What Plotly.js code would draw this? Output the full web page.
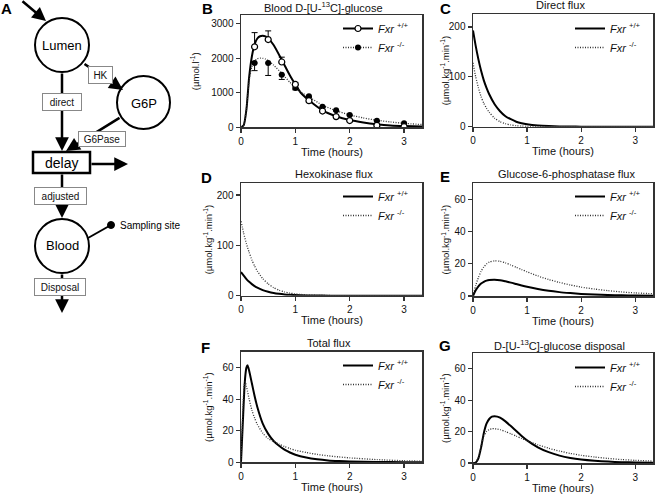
<!DOCTYPE html>
<html>
<head>
<meta charset="utf-8">
<script src="https://cdn.plot.ly/plotly-3.0.1.min.js"></script>
<style>html,body{margin:0;padding:0;background:#fff;}#chart{width:655px;height:494px;}</style>
</head>
<body>
<div id="chart"></div>
<script>
// ---------- DATA ----------
// Panel B: blood D-[U-13C]-glucose (µmol/l)
const tPointsB = [0.25, 0.5, 0.75, 1, 1.25, 1.5, 1.75, 2, 2.5, 3];
const wtPointsB = [2330, 2540, 1890, 1240, 770, 470, 310, 195, 55, 20];
const wtErrB = [410, 250, 140, 60, 40, 30, 20, 15, 10, 5];
const koPointsB = [1860, 1860, 1520, 1135, 900, 595, 490, 356, 190, 115];
const koErrB = [220, 360, 135, 50, 40, 30, 25, 20, 15, 10];
const tCurveB = [0, 0.05, 0.1, 0.15, 0.2, 0.25, 0.3, 0.35, 0.4, 0.45, 0.5, 0.6, 0.75, 0.9, 1, 1.1, 1.25, 1.5, 1.75, 2, 2.25, 2.5, 2.75, 3, 3.33];
const wtCurveB = [0, 60, 520, 1450, 2050, 2400, 2570, 2635, 2650, 2630, 2580, 2380, 1950, 1500, 1240, 1000, 780, 490, 320, 210, 140, 90, 55, 35, 20];
const koCurveB = [0, 70, 560, 1350, 1750, 1920, 1985, 2000, 1995, 1975, 1930, 1800, 1560, 1300, 1160, 1020, 880, 640, 480, 360, 270, 205, 155, 115, 80];

// Shared time grid for model fluxes (hours)
const tFlux = [0, 0.05, 0.1, 0.15, 0.2, 0.25, 0.3, 0.4, 0.5, 0.6, 0.7, 0.8, 0.9, 1, 1.2, 1.4, 1.6, 1.8, 2, 2.25, 2.5, 2.75, 3, 3.33];
// Panel C: direct flux
const wtDirect = [193, 162, 135, 112, 93, 78, 65, 45, 31, 21, 15, 10, 7, 5, 2.5, 1.2, 0.6, 0.3, 0.1, 0, 0, 0, 0, 0];
const koDirect = [128, 100, 78, 60, 47, 37, 29, 17, 10, 6, 3.5, 2, 1.2, 0.7, 0.3, 0.1, 0, 0, 0, 0, 0, 0, 0, 0];
// Panel D: hexokinase flux
const wtHK = [47, 40, 33, 27.5, 23, 19, 16, 11, 7.7, 5.3, 3.7, 2.5, 1.7, 1.2, 0.6, 0.3, 0.1, 0, 0, 0, 0, 0, 0, 0];
const koHK = [148, 124, 103, 86, 71, 59, 49, 34, 23.5, 16, 11, 7.5, 5.2, 3.5, 1.6, 0.8, 0.4, 0.2, 0.1, 0, 0, 0, 0, 0];
// Panel E: glucose-6-phosphatase flux
const wtG6Pase = [0, 3.5, 6, 7.7, 8.8, 9.5, 9.9, 10.1, 9.8, 9.1, 8.3, 7.4, 6.5, 5.7, 4.3, 3.2, 2.4, 1.8, 1.3, 0.9, 0.6, 0.45, 0.3, 0.2];
const koG6Pase = [0, 6.5, 11.5, 15.3, 18, 19.8, 21, 21.8, 21.5, 20.5, 19.2, 17.8, 16.4, 15, 12.4, 10.2, 8.4, 6.8, 5.5, 4.3, 3.3, 2.5, 1.9, 1.4];
// Panel F: total flux
const tTotal = [0, 0.02, 0.04, 0.06, 0.08, 0.1, 0.12, 0.15, 0.2, 0.25, 0.3, 0.4, 0.5, 0.6, 0.7, 0.8, 0.9, 1, 1.2, 1.4, 1.6, 1.8, 2, 2.5, 3, 3.33];
const wtTotal = [0, 15, 30, 45, 55, 60, 61.5, 58, 50, 42, 35, 24.5, 18, 13.5, 10.5, 8, 6.2, 4.8, 3, 1.9, 1.2, 0.8, 0.5, 0.2, 0.1, 0.05];
const koTotal = [0, 20, 38, 49, 51, 48, 45, 40, 33, 28, 24, 18.5, 15, 13.2, 11.5, 10, 8.7, 7.6, 6.2, 5, 4.1, 3.4, 2.8, 1.7, 1.0, 0.7];
// Panel G: D-[U-13C]-glucose disposal
const tDisp = [0, 0.05, 0.1, 0.15, 0.2, 0.25, 0.3, 0.35, 0.4, 0.45, 0.5, 0.6, 0.7, 0.8, 0.9, 1, 1.2, 1.4, 1.6, 1.8, 2, 2.25, 2.5, 2.75, 3, 3.33];
const wtDisp = [0, 0.3, 3, 10, 19, 25, 28, 29.5, 29.8, 29.5, 28.8, 26.5, 23.5, 20.3, 17.2, 14.4, 10, 6.9, 4.7, 3.2, 2.2, 1.4, 0.9, 0.55, 0.35, 0.2];
const koDisp = [0, 0.5, 4, 11, 17, 20, 21.3, 21.8, 21.8, 21.6, 21.2, 20, 18.6, 17.1, 15.6, 14.2, 11.6, 9.4, 7.6, 6.1, 4.9, 3.8, 2.9, 2.2, 1.7, 1.2];

const timeTicks = [0, 1, 2, 3];
const nameWT = '<i>Fxr</i> <sup>+/+</sup>';
const nameKO = '<i>Fxr</i> <sup>-/-</sup>';

// ---------- LAYOUT HELPERS ----------
const W = 655, H = 494;
const px = x => x / W;
const py = y => 1 - y / H;
const FONT = 'Liberation Sans, Arial, Helvetica, sans-serif';

const solid = {color: '#000', width: 2, shape: 'spline', smoothing: 0.6};
const dotted = {color: '#333', width: 1.3, dash: '1px,1.5px', shape: 'spline', smoothing: 0.6};

const traces = [];
// Panel B
traces.push({x: tCurveB, y: wtCurveB, xaxis: 'x', yaxis: 'y', mode: 'lines', line: solid, showlegend: false, hoverinfo: 'skip'});
traces.push({x: tCurveB, y: koCurveB, xaxis: 'x', yaxis: 'y', mode: 'lines', line: dotted, showlegend: false, hoverinfo: 'skip'});
traces.push({x: tPointsB, y: koPointsB, xaxis: 'x', yaxis: 'y', mode: 'markers',
  marker: {symbol: 'circle', size: 6, color: '#000'},
  error_y: {type: 'data', symmetric: false, array: koPointsB.map(() => 0), arrayminus: koErrB, color: '#000', thickness: 1, width: 3},
  showlegend: false});
traces.push({x: tPointsB, y: wtPointsB, xaxis: 'x', yaxis: 'y', mode: 'markers',
  marker: {symbol: 'circle', size: 6, color: '#fff', line: {color: '#000', width: 1.2}},
  error_y: {type: 'data', symmetric: false, array: wtErrB, arrayminus: wtPointsB.map(() => 0), color: '#000', thickness: 1, width: 3},
  showlegend: false});
traces.push({x: [null], y: [null], xaxis: 'x', yaxis: 'y', mode: 'lines+markers', name: nameWT, legend: 'legend',
  line: {color: '#000', width: 2}, marker: {symbol: 'circle', size: 6, color: '#fff', line: {color: '#000', width: 1.2}}});
traces.push({x: [null], y: [null], xaxis: 'x', yaxis: 'y', mode: 'lines+markers', name: nameKO, legend: 'legend',
  line: {color: '#333', width: 1.3, dash: '1px,1.5px'}, marker: {symbol: 'circle', size: 6, color: '#000'}});

function fluxPair(t, wt, ko, ax, lg) {
  traces.push({x: t, y: wt, xaxis: 'x' + ax, yaxis: 'y' + ax, mode: 'lines', line: solid, name: nameWT, legend: lg});
  traces.push({x: t, y: ko, xaxis: 'x' + ax, yaxis: 'y' + ax, mode: 'lines', line: dotted, name: nameKO, legend: lg});
}
fluxPair(tFlux, wtDirect, koDirect, '2', 'legend2');
fluxPair(tFlux, wtHK, koHK, '3', 'legend3');
fluxPair(tFlux, wtG6Pase, koG6Pase, '4', 'legend4');
fluxPair(tTotal, wtTotal, koTotal, '5', 'legend5');
fluxPair(tDisp, wtDisp, koDisp, '6', 'legend6');

// ---------- AXES ----------
const axBase = {showline: true, linecolor: '#333', linewidth: 1.5, mirror: true, ticks: 'outside', ticklen: 4,
  tickwidth: 1.2, tickcolor: '#333', showgrid: false, zeroline: false, fixedrange: true,
  tickfont: {size: 10, color: '#111', family: FONT}};
function xAx(dom, anchor) {
  return Object.assign({}, axBase, {domain: dom, anchor: anchor, range: [0, 3.33], tickvals: timeTicks});
}
function yAx(dom, anchor, range, dtick) {
  return Object.assign({}, axBase, {domain: dom, anchor: anchor, range: range, dtick: dtick});
}
const fluxUnit = '(µmol.kg<sup>-1</sup>.min<sup>-1</sup>)';
const colL = [px(241), px(422)], colR = [px(473), px(653)];

function legendAt(rightPx, topPx) {
  return {x: px(rightPx), xanchor: 'right', y: py(topPx), yanchor: 'top', xref: 'paper', yref: 'paper',
    bgcolor: 'rgba(0,0,0,0)', borderwidth: 0, itemwidth: 30, tracegroupgap: 0,
    font: {size: 11, color: '#111', family: FONT}};
}

// ---------- DIAGRAM (panel A) ----------
const shapes = [
  {type: 'circle', xref: 'paper', yref: 'paper', x0: px(35), x1: px(89), y0: py(72), y1: py(18), line: {color: '#000', width: 2}},
  {type: 'circle', xref: 'paper', yref: 'paper', x0: px(117), x1: px(170), y0: py(129), y1: py(76), line: {color: '#000', width: 2}},
  {type: 'circle', xref: 'paper', yref: 'paper', x0: px(35), x1: px(89), y0: py(273), y1: py(219), line: {color: '#000', width: 2}},
  {type: 'rect', xref: 'paper', yref: 'paper', x0: px(33), x1: px(90), y0: py(173), y1: py(152), line: {color: '#000', width: 2.5}, fillcolor: '#fff'},
  {type: 'line', xref: 'paper', yref: 'paper', x0: px(88), y0: py(238), x1: px(111), y1: py(225), line: {color: '#000', width: 2}},
  {type: 'circle', xref: 'paper', yref: 'paper', x0: px(107.5), x1: px(114.5), y0: py(228.5), y1: py(221.5), line: {color: '#000', width: 1}, fillcolor: '#000'}
];

function arrow(hx, hy, tx, ty) {
  return {xref: 'paper', yref: 'paper', x: px(hx), y: py(hy), ax: tx - hx, ay: ty - hy, axref: 'pixel', ayref: 'pixel',
    text: '', showarrow: true, arrowhead: 2, arrowsize: 1.1, arrowwidth: 2.5, arrowcolor: '#000', standoff: 0, startstandoff: 0};
}
function box(cx, cy, w, h, text) {
  return {xref: 'paper', yref: 'paper', x: px(cx), y: py(cy), xanchor: 'center', yanchor: 'middle', text: text, showarrow: false, width: w, height: h,
    bgcolor: '#fff', bordercolor: '#888', borderwidth: 1, borderpad: 1, font: {size: 10, color: '#111', family: FONT}};
}
function label(cx, cy, text, size, extra) {
  return Object.assign({xref: 'paper', yref: 'paper', x: px(cx), y: py(cy), xanchor: 'center', yanchor: 'middle', text: text, showarrow: false,
    font: {size: size, color: '#000', family: FONT}}, extra || {});
}

const annotations = [
  arrow(46, 21, 21, 0),
  arrow(62, 151, 62, 72),
  arrow(123, 90, 83, 63),
  arrow(66, 151, 121, 117),
  arrow(128, 164, 90, 164),
  arrow(62, 218, 62, 173),
  arrow(62, 313, 62, 273),
  box(62, 102, 36, 14, 'direct'),
  box(100.5, 74.5, 21, 14, 'HK'),
  box(102, 138.5, 44, 12, 'G6Pase'),
  box(60.5, 195.5, 49, 14, 'adjusted'),
  box(60, 286.5, 48, 14, 'Disposal'),
  label(62, 45, 'Lumen', 13),
  label(143.5, 103, 'G6P', 13),
  label(61.5, 162.5, 'delay', 14),
  label(62, 246, 'Blood', 13),
  label(118, 225, 'Sampling site', 10, {xanchor: 'left'}),
  // panel letters
  label(6, 8, '<b>A</b>', 15),
  label(207, 8, '<b>B</b>', 15),
  label(445, 8, '<b>C</b>', 15),
  label(206, 178, '<b>D</b>', 15),
  label(445, 176, '<b>E</b>', 15),
  label(205, 347, '<b>F</b>', 15),
  label(445, 345, '<b>G</b>', 15)
];
// panel titles
const panelTitles = [
  ['x', 'y', 'Blood D-[U-<sup>13</sup>C]-glucose', -8, -2],
  ['x2', 'y2', 'Direct flux', -3, 0],
  ['x3', 'y3', 'Hexokinase flux', 2, 0],
  ['x4', 'y4', 'Glucose-6-phosphatase flux', 3, 0],
  ['x5', 'y5', 'Total flux', -3, 0],
  ['x6', 'y6', 'D-[U-<sup>13</sup>C]-glucose disposal', -4, -2]
];
panelTitles.forEach(p => annotations.push({xref: p[0] + ' domain', yref: p[1] + ' domain', x: 0.5, y: 1, xshift: p[3], yshift: 1 + p[4],
  xanchor: 'center', yanchor: 'bottom', text: p[2], showarrow: false, font: {size: 11, color: '#111', family: FONT}}));
// x-axis titles
['x', 'x2', 'x3', 'x4', 'x5', 'x6'].forEach(xa => annotations.push({xref: xa + ' domain', yref: 'y' + xa.slice(1) + ' domain',
  x: 0.5, y: 0, yshift: -24.5, xanchor: 'center', yanchor: 'middle', text: 'Time (hours)', showarrow: false,
  font: {size: 11, color: '#111', family: FONT}}));
// y-axis titles (placed beside each axis)
const yTitles = [
  ['y', 195, '(µmol.l<sup>-1</sup>)'],
  ['y2', 445, fluxUnit],
  ['y3', 208, fluxUnit],
  ['y4', 445, fluxUnit],
  ['y5', 208, fluxUnit],
  ['y6', 445, fluxUnit]
];
yTitles.forEach(p => annotations.push({xref: 'paper', yref: p[0] + ' domain', x: px(p[1]), y: 0.5, xanchor: 'center', yanchor: 'middle',
  textangle: -90, text: p[2], showarrow: false, font: {size: 9.5, color: '#111', family: FONT}}));

const layout = {
  width: W, height: H, margin: {l: 0, r: 0, t: 0, b: 0}, paper_bgcolor: '#fff', plot_bgcolor: '#fff',
  font: {family: FONT, color: '#111'},
  xaxis: xAx(colL, 'y'), yaxis: yAx([py(127.3), py(15)], 'x', [0, 3250], 1000),
  xaxis2: xAx(colR, 'y2'), yaxis2: yAx([py(126.7), py(14)], 'x2', [0, 226], 100),
  xaxis3: xAx(colL, 'y3'), yaxis3: yAx([py(295.7), py(183)], 'x3', [0, 224], 100),
  xaxis4: xAx(colR, 'y4'), yaxis4: yAx([py(296), py(183)], 'x4', [0, 70], 20),
  xaxis5: xAx(colL, 'y5'), yaxis5: yAx([py(462.3), py(351.7)], 'x5', [0, 70], 20),
  xaxis6: xAx(colR, 'y6'), yaxis6: yAx([py(463), py(353)], 'x6', [0, 70], 20),
  legend: legendAt(414, 14), legend2: legendAt(646, 14), legend3: legendAt(414, 182),
  legend4: legendAt(646, 182), legend5: legendAt(414, 351), legend6: legendAt(646, 353),
  shapes: shapes, annotations: annotations, showlegend: true
};

Plotly.newPlot('chart', traces, layout, {displayModeBar: false, staticPlot: true});
</script>
</body>
</html>
